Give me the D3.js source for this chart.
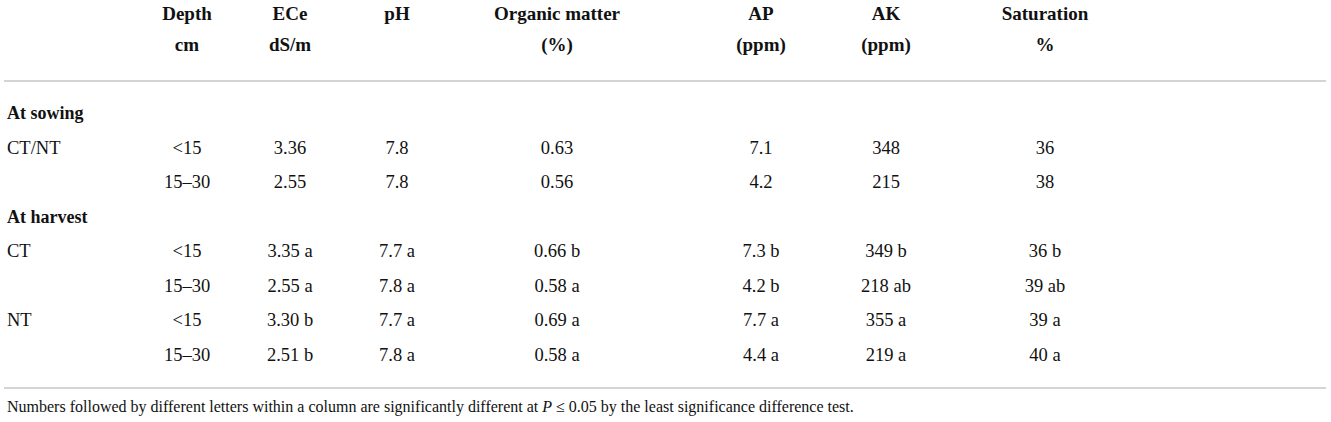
<!DOCTYPE html>
<html><head><meta charset="utf-8">
<script src="https://cdn.jsdelivr.net/npm/d3@7"></script>
<style>
html,body{margin:0;padding:0;background:#fff;}
svg{display:block;}
</style></head>
<body>
<svg id="t" width="1331" height="422"></svg>
<script>
// ---- data ----
const headerLine1 = ["", "Depth", "ECe", "pH", "Organic matter", "AP", "AK", "Saturation"];
const headerLine2 = ["", "cm", "dS/m", "", "(%)", "(ppm)", "(ppm)", "%"];
const sectionTitles = ["At sowing", "At harvest"];
const treatments = ["CT/NT", "", "CT", "", "NT", ""];
const depths = ["<15", "15–30", "<15", "15–30", "<15", "15–30"];
const ece = ["3.36", "2.55", "3.35 a", "2.55 a", "3.30 b", "2.51 b"];
const ph = ["7.8", "7.8", "7.7 a", "7.8 a", "7.7 a", "7.8 a"];
const om = ["0.63", "0.56", "0.66 b", "0.58 a", "0.69 a", "0.58 a"];
const ap = ["7.1", "4.2", "7.3 b", "4.2 b", "7.7 a", "4.4 a"];
const ak = ["348", "215", "349 b", "218 ab", "355 a", "219 a"];
const sat = ["36", "38", "36 b", "39 ab", "39 a", "40 a"];
const sectionRows = [[0, 1], [2, 3, 4, 5]];
const footnoteParts = [
  {t: "Numbers followed by different letters within a column are significantly different at ", i: false},
  {t: "P", i: true},
  {t: " ≤ 0.05 by the least significance difference test.", i: false}
];

// ---- layout ----
const svg = d3.select("#t");
const FONT = "'Liberation Serif','Times New Roman',serif";
const colX = d3.scaleOrdinal().domain(d3.range(8)).range([7, 187, 290, 397, 557, 761, 886, 1045]);

// row order
const rowKeys = [];
sectionRows.forEach((rows, s) => { rowKeys.push("s" + s); rows.forEach(r => rowKeys.push("r" + r)); });
const y = d3.scalePoint().domain(rowKeys).range([119, 361]);

// header
const hdr = svg.append("g").attr("font-family", FONT).attr("font-weight", "bold").attr("font-size", 19).attr("fill", "#111");
[headerLine1, headerLine2].forEach((line, li) => {
  hdr.selectAll(null).data(line.map((t, i) => ({t, i})).filter(d => d.t)).join("text")
    .attr("x", d => colX(d.i)).attr("y", li === 0 ? 20 : 51)
    .attr("text-anchor", d => d.i === 0 ? "start" : "middle")
    .text(d => d.t);
});

// rules
const rules = [81, 388];
svg.selectAll("line.rule").data(rules).join("line").attr("class", "rule")
  .attr("x1", 4).attr("x2", 1326).attr("y1", d => d).attr("y2", d => d)
  .attr("stroke", "#c6c6c6").attr("stroke-width", 1.5);

// section titles
svg.append("g").attr("font-family", FONT).attr("font-weight", "bold").attr("font-size", 18).attr("fill", "#111")
  .selectAll("text").data(sectionTitles).join("text")
  .attr("x", colX(0)).attr("y", (d, i) => y("s" + i)).text(d => d);

// body cells
const cols = [treatments, depths, ece, ph, om, ap, ak, sat];
const cells = [];
cols.forEach((arr, ci) => arr.forEach((v, ri) => { if (v) cells.push({ci, ri, v}); }));
svg.append("g").attr("font-family", FONT).attr("font-size", 18.5).attr("fill", "#111")
  .selectAll("text").data(cells).join("text")
  .attr("x", d => colX(d.ci)).attr("y", d => y("r" + d.ri))
  .attr("text-anchor", d => d.ci === 0 ? "start" : "middle")
  .text(d => d.v);

// footnote
const fn = svg.append("text").attr("font-family", FONT).attr("font-size", 16).attr("fill", "#111")
  .attr("x", 7).attr("y", 412);
fn.selectAll("tspan").data(footnoteParts).join("tspan")
  .attr("font-style", d => d.i ? "italic" : "normal").text(d => d.t);
</script>
</body></html>
